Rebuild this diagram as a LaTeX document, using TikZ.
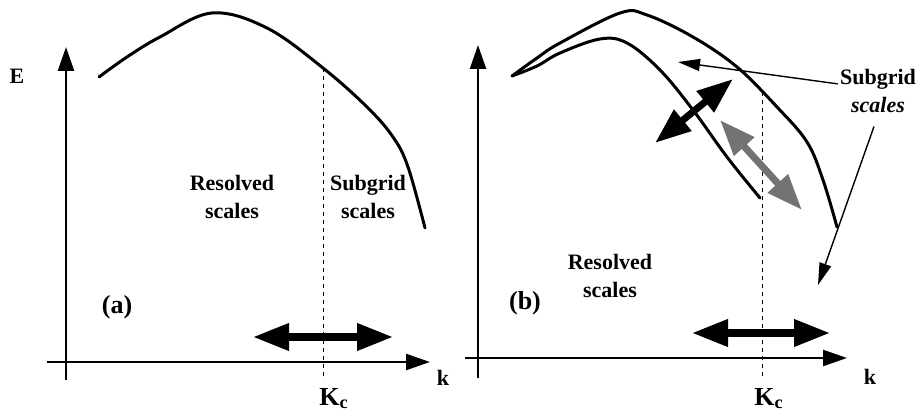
\documentclass[tikz,border=0pt]{standalone}
\usepackage{fontspec}
\setmainfont{Liberation Serif}
\usetikzlibrary{positioning, arrows.meta}

\begin{document}
\begin{tikzpicture}[
        x=0.5pt, y=-0.5pt,
        axis/.style={line width=1.2pt, -{Triangle[length=12pt, width=8pt]}},
        spectrum/.style={line width=1.5pt, line join=round, line cap=round},
        cutoff/.style={line width=0.5pt, dash pattern=on 2pt off 2pt},
        transfer/.style={line width=3.5pt, {Triangle[length=18pt, width=13pt]}-{Triangle[length=18pt, width=13pt]}},
        pointer/.style={line width=0.7pt, -{Triangle[length=11pt, width=6pt]}},
        lbl/.style={font=\fontsize{11}{14}\selectfont\bfseries, align=center, inner sep=1pt},
        tag/.style={lbl, font=\fontsize{13}{14}\selectfont\bfseries}
    ]
    \useasboundingbox (0,0) rectangle (921,411);

    % panel (a)
    \coordinate (a0x) at (47,362);
    \coordinate (a1x) at (430,362);
    \coordinate (a0y) at (66,380);
    \coordinate (a1y) at (66,47);
    \draw[axis] (a0x) -- (a1x);
    \draw[axis] (a0y) -- (a1y);

    \node[lbl] (Ea) at (17,76) {E};
    \node[lbl] (ka) at (443,378) {k};
    \node[tag, anchor=base west] (kca) at (317,405) {K\textsubscript{c}};
    \node[tag] (taga) at (117,307) {(a)};
    \node[lbl] (resa) at (232,197) {Resolved\\scales};
    \node[lbl] (suba) at (368,197) {Subgrid\\scales};

    \draw[spectrum] plot[smooth, tension=0.6] coordinates {(99,77) (127,57) (160,37) (212,13) (267,28) (323,68) (367,107) (393,137) (408,167) (425,228)};

    \coordinate (ca1) at (323,68);
    \coordinate (ca0) at (323,380);
    \draw[cutoff] (ca1) -- (ca0);

    \coordinate (ta0) at (253,337);
    \coordinate (ta1) at (393,337);
    \draw[transfer] (ta0) -- (ta1);

    % panel (b)
    \coordinate (b0x) at (465,358);
    \coordinate (b1x) at (847,358);
    \coordinate (b0y) at (478,378);
    \coordinate (b1y) at (478,45);
    \draw[axis] (b0x) -- (b1x);
    \draw[axis] (b0y) -- (b1y);

    \node[lbl] (kb) at (870,377) {k};
    \node[tag, anchor=base west] (kcb) at (752,405) {K\textsubscript{c}};
    \node[tag] (tagb) at (525,303) {(b)};
    \node[lbl] (resb) at (610,276) {Resolved\\scales};
    \node[lbl] (subb) at (878,91) {Subgrid\\\textit{scales}};

    \draw[spectrum] plot[smooth, tension=0.6] coordinates {(512,76) (537,58) (560,43) (620,13) (647,15) (693,37) (737,67) (777,107) (807,142) (823,180) (837,227)};
    \draw[spectrum] plot[smooth, tension=0.6] coordinates {(512,76) (537,66) (560,53) (600,39) (627,43) (660,70) (693,110) (727,157) (760,198)};

    \coordinate (cb1) at (762,92);
    \coordinate (cb0) at (762,380);
    \draw[cutoff] (cb1) -- (cb0);

    \coordinate (tb0) at (692,333);
    \coordinate (tb1) at (830,333);
    \draw[transfer] (tb0) -- (tb1);

    \coordinate (db0) at (655,143);
    \coordinate (db1) at (733,79);
    \draw[transfer] (db0) -- (db1);

    \coordinate (gb0) at (720,120);
    \coordinate (gb1) at (802,210);
    \draw[transfer, draw=black!55, fill=black!55] (gb0) -- (gb1);

    \coordinate (pb1) at (678,62);
    \coordinate (pb2) at (818,285);
    \draw[pointer] (subb.170) -- (pb1);
    \draw[pointer, shorten <=6pt] (subb.south) -- (pb2);

\end{tikzpicture}
\end{document}
